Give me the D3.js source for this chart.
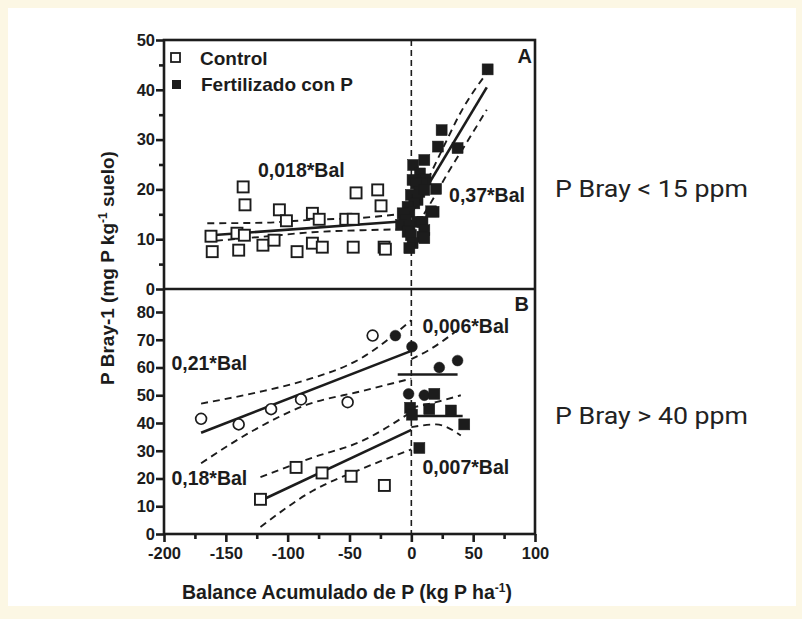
<!DOCTYPE html>
<html><head><meta charset="utf-8">
<script src="https://cdn.jsdelivr.net/npm/d3@7"></script>
<style>
html,body{margin:0;padding:0;background:#fcf7e4;}
svg{display:block;}
</style></head>
<body>
<svg id="chart" width="802" height="619"></svg>
<script>
// ---------- DATA ----------
const xTicks = [-200, -150, -100, -50, 0, 50, 100];
const xMinorTicks = [-175, -125, -75, -25, 25, 75];
const yTicksA = [0, 10, 20, 30, 40, 50];
const yMinorA = [5, 15, 25, 35, 45];
const yTicksB = [0, 10, 20, 30, 40, 50, 60, 70, 80];

// Panel A – Control (open squares)
const ctrlA_x = [-162, -161, -141, -135, -139.6, -136, -134.5, -120, -111, -106.7, -101, -92.4, -80, -74.5, -80, -72, -53, -47, -44.7, -47, -27.2, -24.5, -22, -21];
const ctrlA_y = [10.6, 7.5, 11.2, 10.8, 7.8, 20.5, 16.9, 8.8, 9.8, 15.9, 13.7, 7.5, 15.2, 14.0, 9.2, 8.4, 14.0, 14.0, 19.3, 8.4, 19.9, 16.7, 8.4, 8.0];
// Panel A – Fertilizado con P (filled squares)
const fertA_x = [61.7, 24.5, 21.5, 37.4, 20, 18, 16, 10.5, 1.5, 7, 1, 11.5, 9, 3.8, 6.5, 10.5, -0.3, 5, 2.4, -3, -1.6, -7, -5.7, -4.3, 5, 9, -8.3, -1.6, -3, 10.5, 9, -0.3, 10.5, 1, -1.6];
const fertA_y = [44.1, 31.9, 28.6, 28.3, 20.1, 15.5, 15.6, 25.9, 24.9, 23.2, 21.9, 22.0, 21.2, 21.2, 19.5, 19.9, 18.9, 17.9, 17.2, 16.5, 15.5, 15.2, 14.5, 13.9, 13.5, 13.5, 12.9, 12.5, 11.5, 11.8, 10.5, 10.8, 10.2, 9.2, 8.2];

// Panel A fits (solid) and 95% bands (dashed)
const fitCtrlA_x = [-162, 0];      const fitCtrlA_y = [10.8, 13.7];
const ciCtrlAUp_x = [-165, -120, -80, -40, 0];  const ciCtrlAUp_y = [13.2, 13.3, 13.9, 14.3, 15.3];
const ciCtrlALo_x = [-158, -120, -80, -40, 0];  const ciCtrlALo_y = [9.7, 10.5, 11.4, 11.8, 12.0];
const fitFertA_x = [-8, 61];       const fitFertA_y = [12, 40.5];
const ciFertAUp_x = [-8, 10, 25, 40, 63];  const ciFertAUp_y = [14, 20.5, 28, 35.5, 44];
const ciFertALo_x = [0, 15, 30, 45, 61];   const ciFertALo_y = [11, 17, 23.5, 29.5, 36];

// Panel B – Control, high group (open circles) and Fertilizado (filled circles)
const ctrlBc_x = [-170, -139.6, -113.4, -89.2, -51.5, -31.3];
const ctrlBc_y = [41.5, 39.5, 45, 48.5, 47.5, 71.5];
const fertBc_x = [-12.9, 0.5, -2.2, 10.5, 22.6, 37.4];
const fertBc_y = [71.5, 67.5, 50.5, 50, 60, 62.5];
// Panel B – Control, low group (open squares) and Fertilizado (filled squares)
const ctrlBs_x = [-122, -93.2, -72.2, -48.7, -21.8];
const ctrlBs_y = [12.5, 24, 22, 20.8, 17.5];
const fertBs_x = [-1, 0.5, 14.5, 18.6, 32, 42.8, 6.5];
const fertBs_y = [45.5, 43, 45, 50.5, 44.5, 39.5, 31];

// Panel B fits and bands
const fitCtrlBc_x = [-170, 0];   const fitCtrlBc_y = [36.5, 66];
const ciCtrlBcUp_x = [-170, -125, -85, -40, 0];  const ciCtrlBcUp_y = [47, 51, 55.5, 63.5, 77];
const ciCtrlBcLo_x = [-170, -125, -85, -40, 0];  const ciCtrlBcLo_y = [25.5, 38, 46.5, 51.5, 56];
const fitCtrlBs_x = [-122, 0];   const fitCtrlBs_y = [12, 37.5];
const ciCtrlBsUp_x = [-122, -80, -40, 0];  const ciCtrlBsUp_y = [20.5, 27.5, 33.5, 44];
const ciCtrlBsLo_x = [-122, -80, -40, 0];  const ciCtrlBsLo_y = [2.5, 15.5, 23.5, 30.5];
const fitFertBc_x = [-11, 37.4]; const fitFertBc_y = [57.5, 57.5];
const ciFertBcUp_x = [0, 15, 37.4];  const ciFertBcUp_y = [63, 66.5, 73.5];
const fitFertBs_x = [0, 41.5];   const fitFertBs_y = [42.5, 42.5];
const ciFertBsUp_x = [0, 20, 40];  const ciFertBsUp_y = [45.5, 47.5, 50];
const ciFertBsLo_x = [0, 20, 40];  const ciFertBsLo_y = [38.5, 39.5, 35.5];

const annotations = [
  {t: "0,018*Bal", px: "A", x: -124, y: 22.5},
  {t: "0,37*Bal", px: "A", x: 30.5, y: 17.5},
  {t: "0,006*Bal", px: "B", x: 9, y: 72.5},
  {t: "0,21*Bal", px: "B", x: -194, y: 59},
  {t: "0,18*Bal", px: "B", x: -194, y: 17.5},
  {t: "0,007*Bal", px: "B", x: 9, y: 21.5}
];

// ---------- DRAW ----------
const svg = d3.select("#chart");
svg.append("rect").attr("x", 8).attr("y", 8).attr("width", 788).attr("height", 598).attr("fill", "#ffffff");

const x = d3.scaleLinear().domain([-200, 100]).range([164, 535]);
const yA = d3.scaleLinear().domain([0, 50]).range([289, 40]);
const yB = d3.scaleLinear().domain([0, 80]).range([534, 312]);
const ink = "#1c1c1c";
const font = "'Liberation Sans', Arial, sans-serif";
const fmt = d => String(d);

const zip = (xs, ys) => xs.map((v, i) => [v, ys[i]]);

function drawLine(ys, xs, yv, dashed, curve) {
  const l = d3.line().x(d => x(d[0])).y(d => ys(d[1])).curve(curve || d3.curveLinear);
  svg.append("path").attr("d", l(zip(xs, yv))).attr("fill", "none")
    .attr("stroke", ink).attr("stroke-width", dashed ? 1.9 : 2.6)
    .attr("stroke-dasharray", dashed ? "7,5" : null);
}

// vertical dashed line at 0
svg.append("line").attr("x1", x(0)).attr("x2", x(0)).attr("y1", yA(50)).attr("y2", yB(0))
  .attr("stroke", ink).attr("stroke-width", 1.6).attr("stroke-dasharray", "6,4");

// Panel A lines
drawLine(yA, fitCtrlA_x, fitCtrlA_y, false);
drawLine(yA, ciCtrlAUp_x, ciCtrlAUp_y, true, d3.curveMonotoneX);
drawLine(yA, ciCtrlALo_x, ciCtrlALo_y, true, d3.curveMonotoneX);
drawLine(yA, fitFertA_x, fitFertA_y, false);
drawLine(yA, ciFertAUp_x, ciFertAUp_y, true, d3.curveMonotoneX);
drawLine(yA, ciFertALo_x, ciFertALo_y, true, d3.curveMonotoneX);

// Panel B lines
drawLine(yB, fitCtrlBc_x, fitCtrlBc_y, false);
drawLine(yB, ciCtrlBcUp_x, ciCtrlBcUp_y, true, d3.curveMonotoneX);
drawLine(yB, ciCtrlBcLo_x, ciCtrlBcLo_y, true, d3.curveMonotoneX);
drawLine(yB, fitCtrlBs_x, fitCtrlBs_y, false);
drawLine(yB, ciCtrlBsUp_x, ciCtrlBsUp_y, true, d3.curveMonotoneX);
drawLine(yB, ciCtrlBsLo_x, ciCtrlBsLo_y, true, d3.curveMonotoneX);
drawLine(yB, fitFertBc_x, fitFertBc_y, false);
drawLine(yB, ciFertBcUp_x, ciFertBcUp_y, true, d3.curveMonotoneX);
drawLine(yB, fitFertBs_x, fitFertBs_y, false);
drawLine(yB, ciFertBsUp_x, ciFertBsUp_y, true, d3.curveMonotoneX);
drawLine(yB, ciFertBsLo_x, ciFertBsLo_y, true, d3.curveMonotoneX);

// markers
const S = 11;
function squares(ys, xs, yv, filled) {
  svg.append("g").selectAll("rect").data(zip(xs, yv)).join("rect")
    .attr("x", d => x(d[0]) - S / 2).attr("y", d => ys(d[1]) - S / 2)
    .attr("width", S).attr("height", S)
    .attr("fill", filled ? ink : "#fff").attr("stroke", ink).attr("stroke-width", filled ? 0.5 : 1.9);
}
function circles(ys, xs, yv, filled) {
  svg.append("g").selectAll("circle").data(zip(xs, yv)).join("circle")
    .attr("cx", d => x(d[0])).attr("cy", d => ys(d[1])).attr("r", 5.4)
    .attr("fill", filled ? ink : "#fff").attr("stroke", ink).attr("stroke-width", filled ? 0.5 : 1.7);
}
squares(yA, ctrlA_x, ctrlA_y, false);
squares(yA, fertA_x, fertA_y, true);
circles(yB, ctrlBc_x, ctrlBc_y, false);
circles(yB, fertBc_x, fertBc_y, true);
squares(yB, ctrlBs_x, ctrlBs_y, false);
squares(yB, fertBs_x, fertBs_y, true);

// frame
svg.append("rect").attr("x", x(-200)).attr("y", yA(50)).attr("width", x(100) - x(-200)).attr("height", yB(0) - yA(50))
  .attr("fill", "none").attr("stroke", ink).attr("stroke-width", 2.6);
svg.append("line").attr("x1", x(-200)).attr("x2", x(100)).attr("y1", yA(0)).attr("y2", yA(0))
  .attr("stroke", ink).attr("stroke-width", 2.6);

// axes
function styleAxis(g) {
  g.select(".domain").remove();
  g.selectAll(".tick line").attr("stroke", ink).attr("stroke-width", 2.6);
  g.selectAll(".tick text").attr("fill", ink).attr("font-family", font).attr("font-weight", "bold").attr("font-size", 16.5);
}
svg.append("g").attr("transform", `translate(${x(-200)},0)`)
  .call(d3.axisLeft(yA).tickValues(yTicksA).tickSize(8).tickPadding(1).tickFormat(fmt)).call(styleAxis);
svg.append("g").attr("transform", `translate(${x(-200)},0)`)
  .call(d3.axisLeft(yA).tickValues(yMinorA).tickSize(5).tickFormat("")).call(styleAxis);
svg.append("g").attr("transform", `translate(${x(-200)},0)`)
  .call(d3.axisLeft(yB).tickValues(yTicksB).tickSize(8).tickPadding(1).tickFormat(fmt)).call(styleAxis);
svg.append("g").attr("transform", `translate(0,${yB(0)})`)
  .call(d3.axisBottom(x).tickValues(xTicks).tickSize(8).tickPadding(5).tickFormat(fmt)).call(styleAxis);
svg.append("g").attr("transform", `translate(0,${yB(0)})`)
  .call(d3.axisBottom(x).tickValues(xMinorTicks).tickSize(5).tickFormat("")).call(styleAxis);

// axis titles
const xt = svg.append("text").attr("x", 347).attr("y", 599).attr("text-anchor", "middle")
  .attr("font-family", font).attr("font-weight", "bold").attr("font-size", 19.5).attr("fill", ink);
xt.append("tspan").text("Balance Acumulado de P (kg P ha");
xt.append("tspan").attr("font-size", 12).attr("dy", -7).text("-1");
xt.append("tspan").attr("dy", 7).text(")");

const yt = svg.append("text").attr("transform", "translate(114,268) rotate(-90)").attr("text-anchor", "middle")
  .attr("font-family", font).attr("font-weight", "bold").attr("font-size", 19).attr("fill", ink);
yt.append("tspan").text("P Bray-1 (mg P kg");
yt.append("tspan").attr("font-size", 12).attr("dy", -7).text("-1");
yt.append("tspan").attr("dy", 7).text(" suelo)");

// panel letters
svg.append("text").attr("x", 532).attr("y", 63).attr("text-anchor", "end").attr("font-family", font)
  .attr("font-weight", "bold").attr("font-size", 20).attr("fill", ink).text("A");
svg.append("text").attr("x", 529).attr("y", 311).attr("text-anchor", "end").attr("font-family", font)
  .attr("font-weight", "bold").attr("font-size", 20).attr("fill", ink).text("B");

// legend
svg.append("rect").attr("x", x(-200) + 7).attr("y", 53).attr("width", 9).attr("height", 9)
  .attr("fill", "#fff").attr("stroke", ink).attr("stroke-width", 1.8);
svg.append("rect").attr("x", x(-200) + 8).attr("y", 80).attr("width", 9).attr("height", 9).attr("fill", ink);
svg.append("text").attr("x", 200).attr("y", 65).attr("font-family", font).attr("font-weight", "bold")
  .attr("font-size", 19).attr("fill", ink).text("Control");
svg.append("text").attr("x", 201).attr("y", 91).attr("font-family", font).attr("font-weight", "bold")
  .attr("font-size", 19).attr("fill", ink).text("Fertilizado con P");

// annotations
svg.append("g").selectAll("text").data(annotations).join("text")
  .attr("x", d => x(d.x)).attr("y", d => (d.px === "A" ? yA : yB)(d.y))
  .attr("font-family", font).attr("font-weight", "bold").attr("font-size", 19.5).attr("fill", ink)
  .text(d => d.t);

// side labels
svg.append("text").attr("x", 555).attr("y", 197).attr("font-family", "Roboto, sans-serif")
  .attr("font-size", 24).attr("textLength", 193).attr("lengthAdjust", "spacingAndGlyphs")
  .attr("fill", "#222").text("P Bray < 15 ppm");
svg.append("text").attr("x", 555).attr("y", 424).attr("font-family", "Roboto, sans-serif")
  .attr("font-size", 24).attr("textLength", 193).attr("lengthAdjust", "spacingAndGlyphs")
  .attr("fill", "#222").text("P Bray > 40 ppm");
</script>
</body></html>
